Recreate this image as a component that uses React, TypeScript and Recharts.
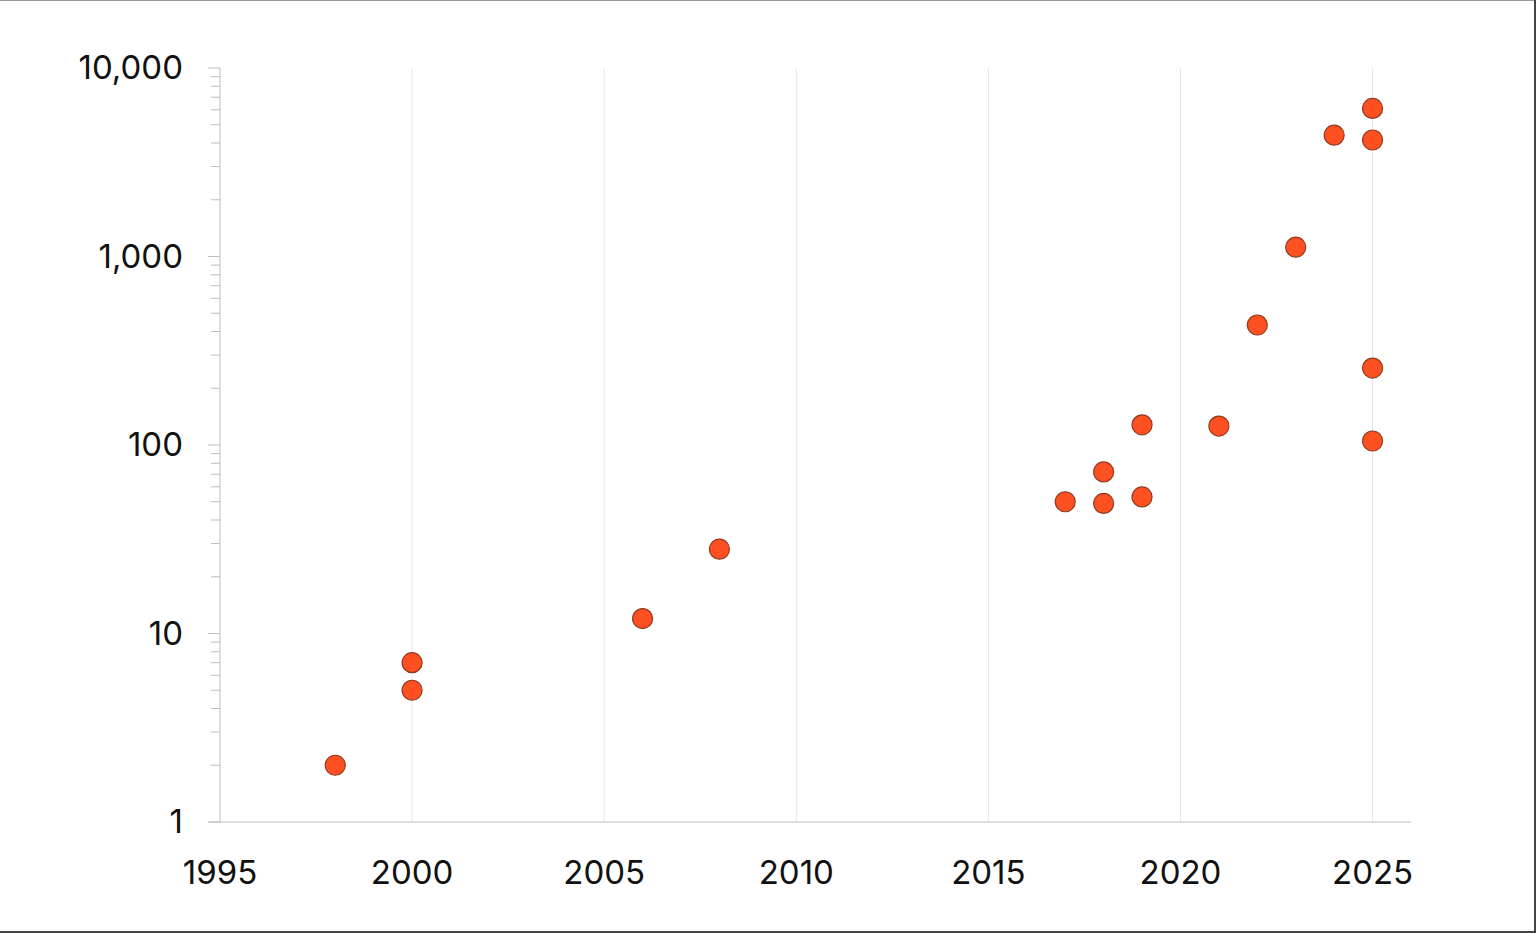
import React from "react";
import { ScatterChart, Scatter, XAxis, YAxis, ReferenceLine } from "recharts";

const years = [1998, 2000, 2000, 2006, 2008, 2017, 2018, 2018, 2019, 2019, 2021, 2022, 2023, 2024, 2025, 2025, 2025, 2025];
const values = [2, 7, 5, 12, 28, 50, 72, 49, 128, 53, 126, 433, 1120, 4400, 6100, 4150, 256, 105];
const xTicks = [1995, 2000, 2005, 2010, 2015, 2020, 2025];
const yMajorTicks = [1, 10, 100, 1000, 10000];
const yTickLabels = ["1", "10", "100", "1,000", "10,000"];

const yTicks: number[] = [];
yMajorTicks.forEach((m, i) => {
  if (i < yMajorTicks.length - 1) {
    for (let k = 1; k < 10; k++) yTicks.push(m * k);
  } else {
    yTicks.push(m);
  }
});

const data = years.map((x, i) => ({ x, y: values[i] }));

const W = 1536;
const H = 933;
const LEFT = 220;
const RIGHT = 1411;
const TOP = 68;
const BOTTOM = 822;
const FONT = "Inter, 'Noto Sans', sans-serif";

const YTick = (props: any) => {
  const { y, payload } = props;
  const v = payload.value;
  const idx = yMajorTicks.indexOf(v);
  const major = idx >= 0;
  return (
    <g>
      <line x1={LEFT - (major ? 12 : 9)} x2={LEFT} y1={y} y2={y} stroke="#bdbdbd" strokeWidth={1} />
      {major && (
        <text x={183} y={y + 11} textAnchor="end" fontSize={33} fill="#111" fontFamily={FONT}>
          {yTickLabels[idx]}
        </text>
      )}
    </g>
  );
};

const XTick = (props: any) => {
  const { x, payload } = props;
  return (
    <text x={x} y={BOTTOM + 62} textAnchor="middle" fontSize={33} fill="#111" fontFamily={FONT}>
      {String(payload.value)}
    </text>
  );
};

const Dot = (props: any) => {
  const { cx, cy } = props;
  return <circle cx={cx} cy={cy} r={10} fill="#FF5021" stroke="#8f3b1f" strokeWidth={1.2} />;
};

export default function App() {
  return (
    <div style={{ position: "fixed", left: 0, top: 0, width: W, height: H, background: "#fff" }}>
      <ScatterChart
        width={W}
        height={H}
        margin={{ top: TOP, right: W - RIGHT, bottom: 0, left: 0 }}
      >
        {xTicks.slice(1).map((t) => (
          <ReferenceLine key={t} x={t} stroke="#e6e6e6" strokeWidth={1} ifOverflow="extendDomain" />
        ))}
        <XAxis
          type="number"
          dataKey="x"
          domain={[1995, 2026]}
          ticks={xTicks}
          allowDataOverflow
          height={H - BOTTOM}
          tickLine={false}
          axisLine={{ stroke: "#bdbdbd", strokeWidth: 1 }}
          tick={<XTick />}
          interval={0}
        />
        <YAxis
          type="number"
          dataKey="y"
          scale="log"
          domain={[1, 10000]}
          ticks={yTicks}
          allowDataOverflow
          width={LEFT}
          tickLine={false}
          axisLine={{ stroke: "#bdbdbd", strokeWidth: 1 }}
          tick={<YTick />}
          interval={0}
        />
        <Scatter data={data} isAnimationActive={false} shape={<Dot />} />
      </ScatterChart>
      <svg width={W} height={H} style={{ position: "absolute", left: 0, top: 0, pointerEvents: "none" }}>
        <line x1={0} x2={W} y1={0.5} y2={0.5} stroke="#9a9a9a" strokeWidth={1} />
        <line x1={W - 1} x2={W - 1} y1={0} y2={H} stroke="#444" strokeWidth={2} />
        <line x1={0} x2={W} y1={H - 1} y2={H - 1} stroke="#444" strokeWidth={2} />
        <line x1={LEFT - 11} x2={LEFT} y1={BOTTOM} y2={BOTTOM} stroke="#bdbdbd" strokeWidth={1} />
      </svg>
    </div>
  );
}
